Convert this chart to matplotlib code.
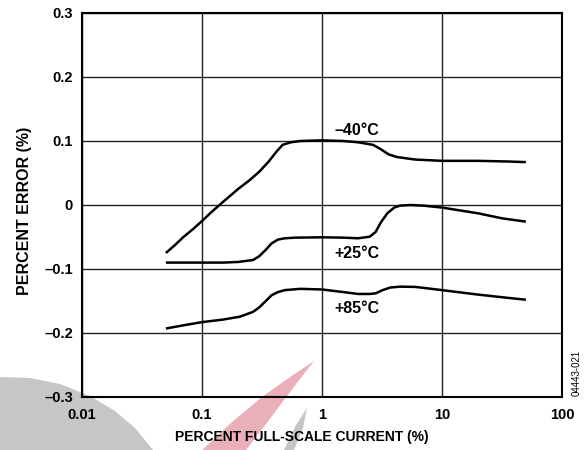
import matplotlib
matplotlib.use('Agg')
import matplotlib.pyplot as plt
from matplotlib.patches import Polygon
from matplotlib.ticker import FixedLocator, NullLocator

plt.rcParams['font.family'] = ['Liberation Sans', 'DejaVu Sans']
plt.rcParams['font.weight'] = 'bold'

# -40C curve
x_m40 = [0.05, 0.06, 0.07, 0.085, 0.1, 0.12, 0.15, 0.2, 0.25, 0.3, 0.36, 0.42, 0.47, 0.55, 0.66, 1.0, 1.5, 2.0, 2.66, 3.1, 3.6, 4.2, 5.0, 6.0, 10, 20, 35, 50]
y_m40 = [-0.075, -0.062, -0.05, -0.037, -0.025, -0.011, 0.005, 0.025, 0.039, 0.052, 0.068, 0.084, 0.094, 0.098, 0.1, 0.101, 0.1, 0.098, 0.094, 0.087, 0.079, 0.075, 0.073, 0.071, 0.069, 0.069, 0.068, 0.067]

# +25C curve
x_p25 = [0.05, 0.1, 0.15, 0.2, 0.266, 0.3, 0.34, 0.38, 0.43, 0.49, 0.6, 1.0, 1.5, 2.0, 2.5, 2.8, 3.1, 3.5, 4.0, 4.47, 5.4, 7.0, 10, 20, 32, 50]
y_p25 = [-0.09, -0.09, -0.09, -0.089, -0.086, -0.08, -0.07, -0.06, -0.054, -0.052, -0.051, -0.0505, -0.051, -0.052, -0.0495, -0.042, -0.027, -0.013, -0.004, -0.001, 0.0, -0.001, -0.004, -0.013, -0.021, -0.026]

# +85C curve
x_p85 = [0.05, 0.07, 0.1, 0.15, 0.207, 0.266, 0.3, 0.34, 0.38, 0.43, 0.49, 0.66, 1.0, 1.5, 2.0, 2.5, 2.8, 3.2, 3.7, 4.47, 6.0, 10, 20, 35, 50]
y_p85 = [-0.193, -0.188, -0.183, -0.179, -0.1745, -0.167, -0.16, -0.15, -0.141, -0.136, -0.133, -0.131, -0.132, -0.136, -0.139, -0.139, -0.138, -0.133, -0.129, -0.1276, -0.128, -0.133, -0.14, -0.145, -0.148]

curve_labels = ['\u201340\u00b0C', '+25\u00b0C', '+85\u00b0C']
label_pos = [(1.96, 0.117), (1.96, -0.075), (1.96, -0.161)]

x_ticks = [0.01, 0.1, 1, 10, 100]
x_ticklabels = ['0.01', '0.1', '1', '10', '100']
y_ticks = [-0.3, -0.2, -0.1, 0, 0.1, 0.2, 0.3]
y_ticklabels = ['\u20130.3', '\u20130.2', '\u20130.1', '0', '0.1', '0.2', '0.3']

W, H = 588, 450
fig = plt.figure(figsize=(W / 100, H / 100), dpi=100)

# faint watermark behind the plot (pixel coords, origin top-left)
def px(pts):
    return [(x / W, 1 - y / H) for x, y in pts]

grey_arc = [(0, 377), (30, 378), (60, 384), (90, 396), (115, 411), (135, 428), (153, 450), (0, 450)]
red_wedge = [(314, 361), (290, 377), (262, 397), (232, 422), (202, 450), (246, 450), (266, 424), (290, 392)]
grey_sliver = [(307, 408), (296, 425), (284, 450), (294, 450), (303, 428)]
for pts, col in [(grey_arc, '#c6c6c6'), (red_wedge, '#eab0b9'), (grey_sliver, '#c6c6c6')]:
    fig.patches.append(Polygon(px(pts), closed=True, transform=fig.transFigure,
                               facecolor=col, edgecolor='none', zorder=0))

ax = fig.add_axes([82 / W, 1 - 397 / H, 480 / W, 384 / H])
ax.set_zorder(1)
ax.set_facecolor('none')
ax.set_xscale('log')
ax.set_xlim(0.01, 100)
ax.set_ylim(-0.3, 0.3)

ax.xaxis.set_major_locator(FixedLocator(x_ticks))
ax.xaxis.set_minor_locator(NullLocator())
ax.set_xticklabels(x_ticklabels)
ax.set_yticks(y_ticks)
ax.set_yticklabels(y_ticklabels)
ax.tick_params(length=0, labelsize=10.5)
ax.tick_params(axis='x', pad=8)
ax.tick_params(axis='y', pad=6.5)
for lbl in ax.get_xticklabels() + ax.get_yticklabels():
    lbl.set_fontweight('bold')

ax.grid(True, color='#222222', linewidth=1.0)
ax.set_axisbelow(True)
for s in ax.spines.values():
    s.set_linewidth(1.5)
    s.set_color('black')

for xs, ys in [(x_m40, y_m40), (x_p25, y_p25), (x_p85, y_p85)]:
    ax.plot(xs, ys, color='black', linewidth=1.8, solid_capstyle='butt')

for txt, (tx, ty) in zip(curve_labels, label_pos):
    ax.text(tx, ty, txt, ha='center', va='center', fontsize=11.5, fontweight='bold')

ax.set_xlabel('PERCENT FULL-SCALE CURRENT (%)', fontsize=10, fontweight='bold')
ax.xaxis.set_label_coords((302 - 82) / 480, (397 - 437) / 384)
ax.xaxis.label.set_va('center')
ax.set_ylabel('PERCENT ERROR (%)', fontsize=11.5, fontweight='bold')
ax.yaxis.set_label_coords((25 - 82) / 480, (397 - 211) / 384)
ax.yaxis.label.set_va('center')

fig.text(577 / W, 1 - 373 / H, '04443-021', rotation=90, ha='center', va='center', fontsize=7, fontweight='normal')

fig.savefig('out.png', dpi=100)
